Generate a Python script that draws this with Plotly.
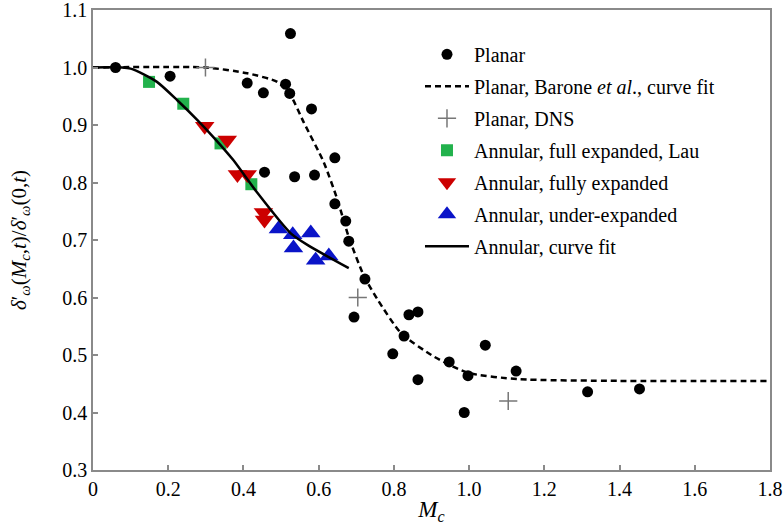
import plotly.graph_objects as go

# Planar (black circles)
planar_x = [0.06, 0.205, 0.41, 0.453, 0.525, 0.512, 0.523, 0.581, 0.643, 0.456, 0.536, 0.589,
            0.643, 0.672, 0.68, 0.723, 0.694, 0.827, 0.84, 0.864, 0.797, 0.864, 0.947, 0.997,
            0.987, 1.043, 1.125, 1.315, 1.453]
planar_y = [1.0, 0.985, 0.973, 0.956, 1.059, 0.971, 0.955, 0.928, 0.843, 0.818, 0.81, 0.813,
            0.763, 0.733, 0.698, 0.632, 0.566, 0.533, 0.57, 0.575, 0.502, 0.457, 0.488, 0.464,
            0.4, 0.517, 0.472, 0.436, 0.441]

# Planar, Barone et al., curve fit
barone_x = [0.0, 0.3, 0.41, 0.49, 0.525, 0.56, 0.613, 0.65, 0.68, 0.72, 0.757, 0.819, 0.907,
            0.997, 1.13, 1.4, 1.8]
barone_y = [1.0, 1.0, 0.99, 0.975, 0.952, 0.905, 0.836, 0.77, 0.705, 0.638, 0.596, 0.538,
            0.497, 0.469, 0.458, 0.455, 0.455]

# Planar, DNS (plus markers)
dns_x = [0.299, 0.704, 1.104]
dns_y = [1.0, 0.6, 0.42]

# Annular, full expanded, Lau (green squares)
lau_x = [0.149, 0.24, 0.339, 0.421]
lau_y = [0.975, 0.937, 0.868, 0.797]

# Annular, fully expanded (red down triangles)
fully_x = [0.297, 0.357, 0.384, 0.41, 0.453, 0.456]
fully_y = [0.898, 0.874, 0.814, 0.814, 0.748, 0.735]

# Annular, under-expanded (blue up triangles)
under_x = [0.493, 0.531, 0.579, 0.533, 0.592, 0.627]
under_y = [0.719, 0.709, 0.712, 0.686, 0.665, 0.672]

# Annular, curve fit
afit_x = [0.0, 0.1, 0.17, 0.224, 0.277, 0.32, 0.373, 0.437, 0.525, 0.571, 0.68]
afit_y = [1.0, 0.998, 0.975, 0.943, 0.909, 0.879, 0.839, 0.782, 0.712, 0.691, 0.651]

x_ticks = [0, 0.2, 0.4, 0.6, 0.8, 1.0, 1.2, 1.4, 1.6, 1.8]
x_ticklabels = ["0", "0.2", "0.4", "0.6", "0.8", "1.0", "1.2", "1.4", "1.6", "1.8"]
y_ticks = [0.3, 0.4, 0.5, 0.6, 0.7, 0.8, 0.9, 1.0, 1.1]
y_ticklabels = ["0.3", "0.4", "0.5", "0.6", "0.7", "0.8", "0.9", "1.0", "1.1"]

FONT = "Times New Roman, Liberation Serif, serif"

fig = go.Figure()
fig.add_trace(go.Scatter(x=planar_x, y=planar_y, mode="markers", name="Planar", legendgroup="a",
                         marker=dict(symbol="circle", size=11, color="black")))
fig.add_trace(go.Scatter(x=barone_x, y=barone_y, mode="lines", legendgroup="b",
                         name="Planar, Barone <i>et al</i>., curve fit",
                         line=dict(color="black", width=2.5, dash="6px,4px", shape="spline", smoothing=0.6)))
fig.add_trace(go.Scatter(x=dns_x, y=dns_y, mode="markers", name="Planar, DNS", legendgroup="c",
                         marker=dict(symbol="cross-thin", size=13, color="#777777",
                                     line=dict(color="#777777", width=1.5))))
fig.add_trace(go.Scatter(x=lau_x, y=lau_y, mode="markers", name="Annular, full expanded, Lau", legendgroup="d",
                         marker=dict(symbol="square", size=12, color="#22b24c")))
fig.add_trace(go.Scatter(x=fully_x, y=fully_y, mode="markers", name="Annular, fully expanded", legendgroup="e",
                         marker=dict(symbol="triangle-down", size=17, color="#cc0000")))
fig.add_trace(go.Scatter(x=under_x, y=under_y, mode="markers", name="Annular, under-expanded", legendgroup="f",
                         marker=dict(symbol="triangle-up", size=17, color="#0a14c8")))
fig.add_trace(go.Scatter(x=afit_x, y=afit_y, mode="lines", name="Annular, curve fit", legendgroup="g",
                         line=dict(color="black", width=2.5, shape="spline", smoothing=0.6)))

axis_common = dict(showline=True, linecolor="#8a8a8a", linewidth=1.5, mirror=True,
                   ticks="inside", ticklen=5, tickcolor="#8a8a8a", tickwidth=1.5,
                   showgrid=False, zeroline=False, automargin=False,
                   ticklabeloverflow="allow",
                   tickfont=dict(family=FONT, size=20, color="black"))

fig.update_layout(
    width=783, height=531,
    margin=dict(l=93, r=13, t=10, b=61),
    paper_bgcolor="white", plot_bgcolor="white",
    font=dict(family=FONT, size=20, color="black"),
    showlegend=True,
    legend=dict(x=0.483, y=0.946, xanchor="left", yanchor="top",
                bgcolor="rgba(0,0,0,0)", borderwidth=0,
                font=dict(family=FONT, size=20, color="black"),
                traceorder="grouped", tracegroupgap=3, itemwidth=44),
    xaxis=dict(range=[0, 1.8], tickvals=x_ticks, ticktext=x_ticklabels,
               title=dict(text="<i>M</i><sub><i>c</i></sub>", font=dict(family=FONT, size=23), standoff=2),
               **axis_common),
    yaxis=dict(range=[0.3, 1.1], tickvals=y_ticks, ticktext=y_ticklabels,
               title=dict(text="<i>δ</i>′<sub><i>ω</i></sub>(<i>M</i><sub><i>c</i></sub>,<i>t</i>)/<i>δ</i>′<sub><i>ω</i></sub>(0,<i>t</i>)",
                          font=dict(family=FONT, size=21), standoff=30),
               **axis_common),
)

# remove the browser's default 8px body margin so the figure fills the window exactly
fig.write_html("out.html", config={"displayModeBar": False},
               post_script="document.body.style.margin='0';")
